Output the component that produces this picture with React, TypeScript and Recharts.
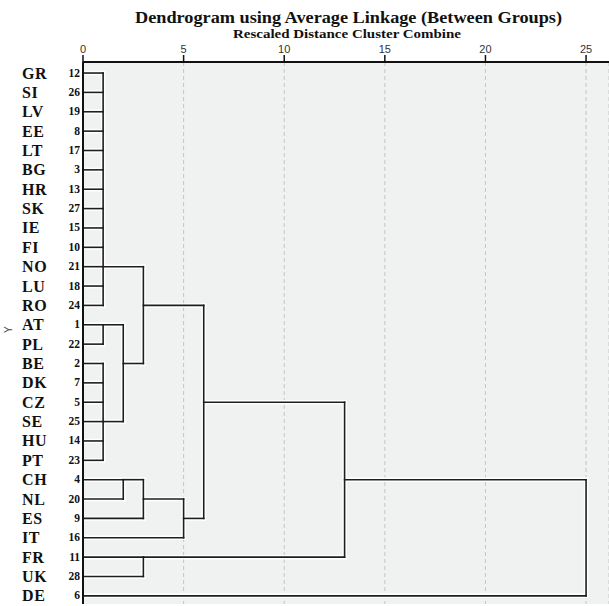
import React from 'react';
import { ComposedChart, XAxis, YAxis, CartesianGrid, Line, Label } from 'recharts';

const countries = ["GR","SI","LV","EE","LT","BG","HR","SK","IE","FI","NO","LU","RO","AT","PL","BE","DK","CZ","SE","HU","PT","CH","NL","ES","IT","FR","UK","DE"];
const caseNumbers = [12,26,19,8,17,3,13,27,15,10,21,18,24,1,22,2,7,5,25,14,23,4,20,9,16,11,28,6];

// Agglomeration schedule: node ids 0..27 are leaves, merge k creates node 28+k
const mergeChildren: number[][] = [
  [0,1,2,3,4,5,6,7,8,9,10,11,12],
  [13,14],
  [15,16,17,18,19,20],
  [29,30],
  [28,31],
  [21,22],
  [33,23],
  [34,24],
  [32,35],
  [25,26],
  [36,37],
  [38,27],
];
const mergeDistances = [1,1,1,2,3,2,3,5,6,3,13,25];
// leaf row at which each merged cluster's connector is drawn
const mergeRows = [10,13,18,15,12,21,22,23,17,25,21,27];
const distanceTicks = [0,5,10,15,20,25];

const TITLE = "Dendrogram using Average Linkage (Between Groups)";
const SUBTITLE = "Rescaled Distance Cluster Combine";

type Pt = { d: number; r: number };

function buildSegments(): Pt[][] {
  const nodeX: number[] = countries.map(() => 0);
  const nodeRow: number[] = countries.map((_, i) => i);
  const segs: Pt[][] = [];
  mergeChildren.forEach((children, m) => {
    const dist = mergeDistances[m];
    const rows = children.map((c) => nodeRow[c]);
    children.forEach((c) => {
      segs.push([{ d: nodeX[c], r: nodeRow[c] }, { d: dist, r: nodeRow[c] }]);
    });
    segs.push([{ d: dist, r: Math.min(...rows) }, { d: dist, r: Math.max(...rows) }]);
    nodeX.push(dist);
    nodeRow.push(mergeRows[m]);
  });
  return segs;
}

const segments = buildSegments();
const rowTicks = countries.map((_, i) => i);
const baseData = countries.map((c, i) => ({ d: 0, r: i }));

const LeafTick = (props: any) => {
  const { x, y, payload } = props;
  const i = payload.value as number;
  return (
    <g>
      <text x={x - 58} y={y} dy={5.5} textAnchor="start" fontFamily="'Liberation Serif', serif" fontWeight="bold" fontSize={16} letterSpacing={0.6} fill="#111">
        {countries[i]}
      </text>
      <text x={x} y={y} dy={3.5} textAnchor="end" fontFamily="'Liberation Serif', serif" fontWeight="bold" fontSize={11.5} fill="#111">
        {caseNumbers[i]}
      </text>
    </g>
  );
};

export default function App() {
  return (
    <div style={{ position: 'relative', width: 609, height: 606, background: '#fff' }}>
      <style>{`body{margin:0}`}</style>
      <ComposedChart width={609} height={606} data={baseData} margin={{ top: 32, right: 0, bottom: 2, left: 0 }}>
        <CartesianGrid vertical horizontal={false} fill="#f0f1f1" stroke="#c4c4c4" strokeDasharray="4 3" />
        <XAxis
          dataKey="d"
          type="number"
          orientation="top"
          domain={[0, 26.14]}
          ticks={distanceTicks}
          interval={0}
          allowDataOverflow
          height={30}
          tickSize={7}
          tickMargin={2}
          axisLine={{ stroke: '#111', strokeWidth: 2 }}
          tickLine={{ stroke: '#111', strokeWidth: 1.5 }}
          tick={{ fill: '#333', fontSize: 11, fontFamily: "'Liberation Sans', sans-serif" }}
        />
        <XAxis
          xAxisId="bottom"
          dataKey="d"
          type="number"
          orientation="bottom"
          domain={[0, 26.14]}
          height={0}
          tick={false}
          tickLine={false}
          axisLine={{ stroke: '#9a9a9a', strokeWidth: 1.5 }}
        />
        <YAxis
          dataKey="r"
          type="number"
          domain={[-0.57, 27.42]}
          reversed
          ticks={rowTicks}
          interval={0}
          allowDataOverflow
          width={83}
          tickSize={0}
          tickMargin={3}
          tickLine={false}
          axisLine={{ stroke: '#111', strokeWidth: 2 }}
          tick={<LeafTick />}
        >
          <Label value="Y" angle={-90} position="insideLeft" offset={8} style={{ fontSize: 10, fill: '#444', fontFamily: "'Liberation Sans', sans-serif" }} />
        </YAxis>
        {segments.map((seg, i) => (
          <Line key={`h${i}`} data={seg} dataKey="r" stroke="#ffffff" strokeWidth={4.5} dot={false} activeDot={false} isAnimationActive={false} strokeLinecap="square" />
        ))}
        {segments.map((seg, i) => (
          <Line key={`s${i}`} data={seg} dataKey="r" stroke="#1e1e1e" strokeWidth={1.6} dot={false} activeDot={false} isAnimationActive={false} strokeLinecap="square" />
        ))}
      </ComposedChart>
      <svg width={609} height={45} style={{ position: 'absolute', left: 0, top: 0, pointerEvents: 'none' }}>
        <text x={348.5} y={23} textAnchor="middle" fontFamily="'Liberation Serif', serif" fontWeight="bold" fontSize={16} fill="#111" textLength={427} lengthAdjust="spacingAndGlyphs">
          {TITLE}
        </text>
        <text x={347} y={38} textAnchor="middle" fontFamily="'Liberation Serif', serif" fontWeight="bold" fontSize={13} fill="#111" textLength={228} lengthAdjust="spacingAndGlyphs">
          {SUBTITLE}
        </text>
      </svg>
    </div>
  );
}
